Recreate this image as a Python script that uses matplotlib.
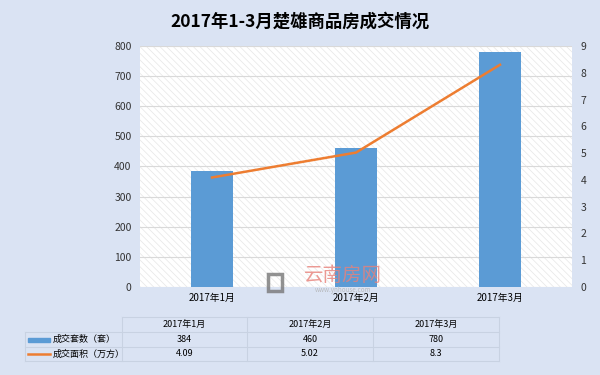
import matplotlib.pyplot as plt
import matplotlib.patches as mpatches
import numpy as np

plt.rcParams['font.family'] = ['Noto Sans CJK SC', 'DejaVu Sans']
plt.rcParams['hatch.linewidth'] = 0.5

# 數據
months = ["2017年1月", "2017年2月", "2017年3月"]
units = [384, 460, 780]          # 成交套数（套）
area = [4.09, 5.02, 8.3]         # 成交面积（万方）
series_names = ["成交套数（套）", "成交面积（万方）"]
title = "2017年1-3月楚雄商品房成交情况"

bg = "#DAE3F3"
bar_color = "#5B9BD5"
line_color = "#ED7D31"

W, H = 600, 375
fig = plt.figure(figsize=(6, 3.75), dpi=100, facecolor=bg)

# 主圖區
ax = fig.add_axes([140 / W, 1 - 287 / H, 432 / W, 241 / H])
ax.set_facecolor("white")
ax.add_patch(mpatches.Rectangle((0, 0), 1, 1, transform=ax.transAxes, facecolor="white",
                                edgecolor="#E6E6E6", hatch="\\\\\\\\\\", linewidth=0, zorder=0))
x = np.arange(len(months))
ax.bar(x, units, width=0.29, color=bar_color, zorder=3)
ax.set_xlim(-0.5, len(months) - 0.5)
ax.set_ylim(0, 800)
ax.set_yticks(range(0, 801, 100))
ax.set_xticks(x)
ax.set_xticklabels(months, fontsize=7)
ax.tick_params(axis="y", labelsize=7.5, length=0, pad=6, colors="#333333")
ax.tick_params(axis="x", length=0, pad=4, colors="black")
ax.grid(axis="y", color="#D9D9D9", linewidth=0.8, zorder=1)
for s in ax.spines.values():
    s.set_visible(False)

ax2 = ax.twinx()
ax2.plot(x, area, color=line_color, linewidth=1.8, zorder=4)
ax2.set_ylim(0, 9)
ax2.set_yticks(range(0, 10))
ax2.tick_params(axis="y", labelsize=7.5, length=0, pad=6, colors="#333333")
for s in ax2.spines.values():
    s.set_visible(False)

fig.text(0.5, 1 - 22 / H, title, ha="center", va="center", fontsize=12.5, fontweight="bold")

# 浮水印
fig.add_artist(mpatches.Rectangle((268 / W, 1 - 291 / H), 14 / W, 17 / H, transform=fig.transFigure,
                                  facecolor="none", edgecolor="#777777", linewidth=2.5, alpha=0.8))
fig.text(343 / W, 1 - 275 / H, "云南房网", ha="center", va="center", fontsize=14,
         color="#E8817A", alpha=0.8)
fig.text(343 / W, 1 - 289.5 / H, "www.ynhouse.com", ha="center", va="center", fontsize=4.5,
         color="#B0B0B0", alpha=0.8)

# 數據表
tab = fig.add_axes([0, 0, 1, 1])
tab.set_xlim(0, W)
tab.set_ylim(H, 0)
tab.axis("off")
lc = "#C8D2E2"
cols = [122, 247, 373, 499]
rows = [317, 332, 347, 361]
tab.plot([cols[0], cols[-1]], [rows[0], rows[0]], color=lc, lw=0.8)
for yy in rows[1:]:
    tab.plot([25, cols[-1]], [yy, yy], color=lc, lw=0.8)
for xx in cols:
    tab.plot([xx, xx], [rows[0], rows[-1]], color=lc, lw=0.8)
tab.plot([25, 25], [rows[1], rows[-1]], color=lc, lw=0.8)

centers = [(cols[i] + cols[i + 1]) / 2 for i in range(3)]
for i, m in enumerate(months):
    tab.text(centers[i], (rows[0] + rows[1]) / 2, m, ha="center", va="center", fontsize=6.5)
    tab.text(centers[i], (rows[1] + rows[2]) / 2, str(units[i]), ha="center", va="center", fontsize=6.5)
    tab.text(centers[i], (rows[2] + rows[3]) / 2, f"{area[i]:g}", ha="center", va="center", fontsize=6.5)

y1 = (rows[1] + rows[2]) / 2
y2 = (rows[2] + rows[3]) / 2
tab.add_patch(mpatches.Rectangle((28, y1 - 2), 22, 4, color=bar_color))
tab.plot([28, 50], [y2, y2], color=line_color, lw=1.8)
tab.text(53, y1, series_names[0], ha="left", va="center", fontsize=6.5)
tab.text(53, y2, series_names[1], ha="left", va="center", fontsize=6.5)

fig.savefig("out.png", dpi=100, facecolor=bg)
